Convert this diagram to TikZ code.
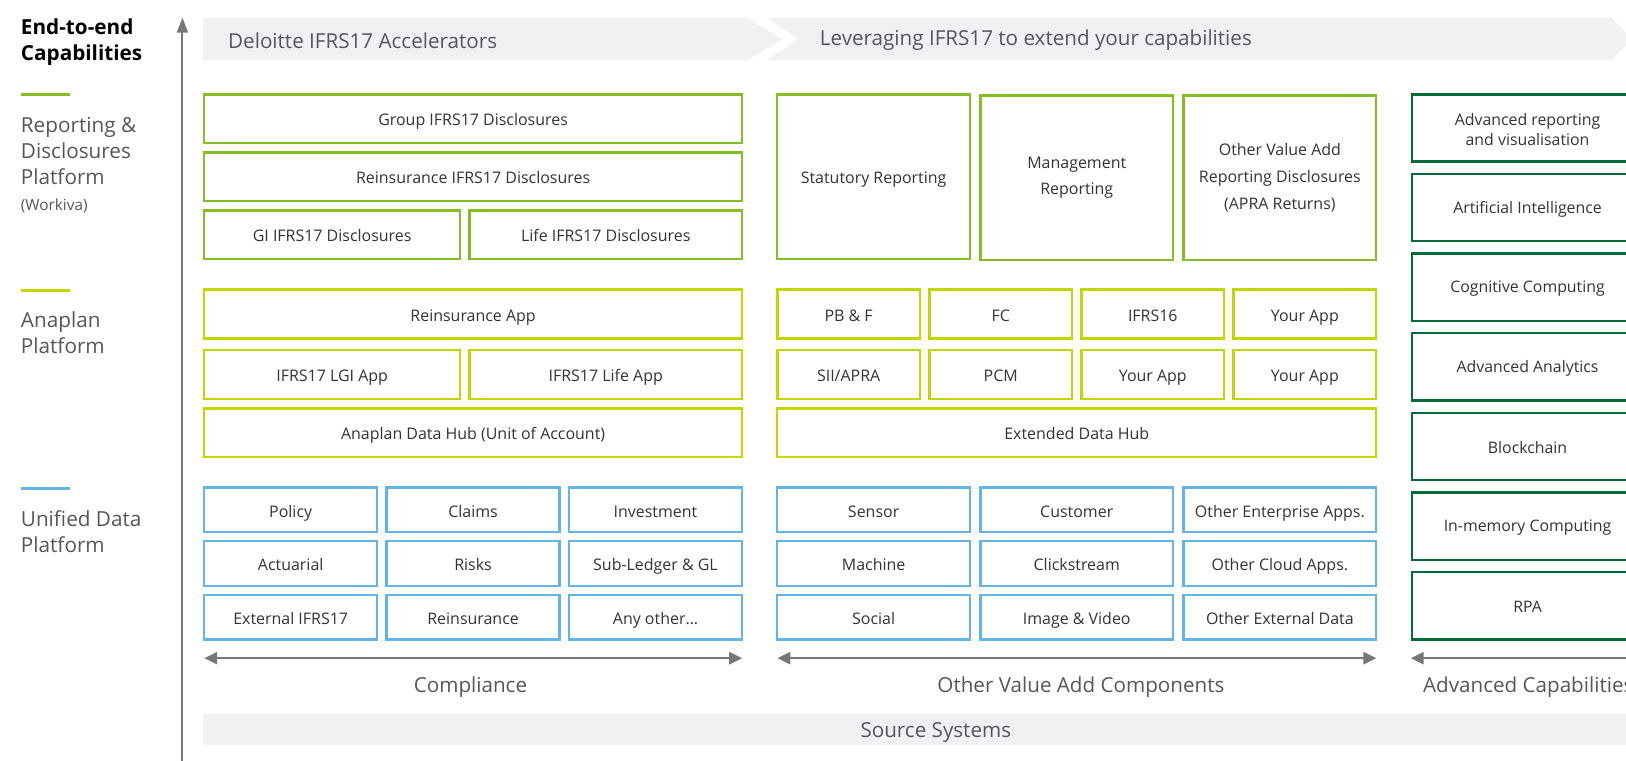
\documentclass[tikz,border=0pt]{standalone}
\usepackage{fontspec}
\setmainfont{Open Sans}
\usepackage{tikz}
\usetikzlibrary{arrows.meta,positioning}

\definecolor{repgreen}{HTML}{86BC25}
\definecolor{anagreen}{HTML}{C4D600}
\definecolor{datblue}{HTML}{62B5E5}
\definecolor{advgreen}{HTML}{046A38}
\definecolor{bandgray}{HTML}{F0F1F3}
\definecolor{axisgray}{HTML}{75787B}
\definecolor{txtgray}{HTML}{333333}
\definecolor{lblgray}{HTML}{53565A}

\tikzset{
  box/.style={draw,line width=2.4pt,text=txtgray,align=center,inner sep=0pt,
    text height=14pt,text depth=0pt,font=\fontsize{15.4}{26}\selectfont},
  ml/.style={text height={},text depth={}},
  rep/.style={box,draw=repgreen},
  ana/.style={box,draw=anagreen},
  dat/.style={box,draw=datblue},
  adv/.style={box,draw=advgreen,anchor=west,minimum width=400pt,minimum height=65pt},
  advtxt/.style={text=txtgray,align=center,inner sep=0pt,font=\fontsize{15.3}{19}\selectfont},
  full/.style={minimum width=519pt,minimum height=47pt},
  lhalf/.style={minimum width=247pt,minimum height=47pt},
  rhalf/.style={minimum width=263pt,minimum height=47pt},
  tall/.style={minimum width=186pt,minimum height=159pt},
  qtr/.style={minimum width=137.5pt,minimum height=47pt},
  third/.style={minimum width=167pt,minimum height=43pt},
  mthird/.style={minimum width=186pt,minimum height=43pt},
  plat/.style={anchor=north west,inner sep=0pt,align=left,text=lblgray,font=\fontsize{20}{25}\selectfont},
  bandtxt/.style={anchor=west,inner sep=0pt,text=lblgray,font=\fontsize{19.9}{22}\selectfont},
  bot/.style={inner sep=0pt,text=lblgray,font=\fontsize{19.9}{22}\selectfont},
  harr/.style={axisgray,line width=2.5pt,{Triangle[length=13pt,width=12pt]}-{Triangle[length=13pt,width=12pt]}},
}

\begin{document}
\begin{tikzpicture}[x=1pt,y=-1pt,scale=1.0363,every node/.append style={transform shape}]
\useasboundingbox (0,0) rectangle (1569,734.3);
\clip (0,0) rectangle (1569,734.3);

\fill[bandgray] (196,17) -- (721,17) -- (755,38) -- (721,58) -- (196,58) -- cycle;
\fill[bandgray] (740,17) -- (1555,17) -- (1575,38) -- (1555,58) -- (740,58) -- (770,38) -- cycle;
\node[bandtxt] (acc) at (220,39) {Deloitte IFRS17 Accelerators};
\node[bandtxt] (lev) at (791,39) {Leveraging IFRS17 to extend your capabilities};

\node[plat,text=black,font=\bfseries\fontsize{20}{25}\selectfont] (ttl) at (20,18) {End-to-end\\Capabilities};
\draw[repgreen,line width=3pt] (20,91) -- (68,91);
\node[plat] (rdp) at (20,113) {Reporting \&\\Disclosures\\Platform};
\node[plat,font=\fontsize{14.8}{16}\selectfont] (wkv) at (20,192) {(Workiva)};
\draw[anagreen,line width=3pt] (20,280) -- (68,280);
\node[plat] (anp) at (20,301) {Anaplan\\Platform};
\draw[datblue,line width=3pt] (20,471) -- (68,471);
\node[plat] (udp) at (20,493) {Unified Data\\Platform};

\coordinate (axb) at (176,740);
\coordinate (axt) at (176,17);
\draw[axisgray,line width=2pt,-{Triangle[length=15pt,width=11pt]}] (axb) -- (axt);

\node[rep,full] (grp) at (456.5,114.5) {Group IFRS17 Disclosures};
\node[rep,full] (rid) at (456.5,170.5) {Reinsurance IFRS17 Disclosures};
\node[rep,lhalf] (gid) at (320.5,226.5) {GI IFRS17 Disclosures};
\node[rep,rhalf] (lid) at (584.5,226.5) {Life IFRS17 Disclosures};
\node[rep,tall] (stat) at (843,170.5) {Statutory Reporting};
\node[rep,tall,ml] (mgmt) at (1039,171.5) {Management\\Reporting};
\node[rep,tall,ml] (ova) at (1235,171.5) {Other Value Add\\Reporting Disclosures\\(APRA Returns)};

\node[ana,full] (rapp) at (456.5,303) {Reinsurance App};
\node[ana,lhalf] (lgi) at (320.5,361.5) {IFRS17 LGI App};
\node[ana,rhalf] (lapp) at (584.5,361.5) {IFRS17 Life App};
\node[ana,full] (hub) at (456.5,417.5) {Anaplan Data Hub (Unit of Account)};
\node[ana,qtr] (pbf) at (818.9,303) {PB \& F};
\node[ana,qtr] (fc) at (965.6,303) {FC};
\node[ana,qtr] (ifr) at (1112.4,303) {IFRS16};
\node[ana,qtr] (ya) at (1259.1,303) {Your App};
\node[ana,qtr] (sii) at (818.9,361.5) {SII/APRA};
\node[ana,qtr] (pcm) at (965.6,361.5) {PCM};
\node[ana,qtr] (yb) at (1112.4,361.5) {Your App};
\node[ana,qtr] (yc) at (1259.1,361.5) {Your App};
\node[ana,minimum width=578pt,minimum height=47pt] (edh) at (1039,417.5) {Extended Data Hub};

\foreach \a/\b/\c/\d/\e/\f [count=\r] in {Policy/Claims/Investment/Sensor/Customer/Other Enterprise Apps.,
  Actuarial/Risks/Sub-Ledger \& GL/Machine/Clickstream/Other Cloud Apps.,
  External IFRS17/Reinsurance/Any other\ldots/Social/Image \& Video/Other External Data}{
  \pgfmathsetmacro\y{492+(\r-1)*51.75}
  \node[dat,third] (d\r a) at (280.5,\y) {\a};
  \node[dat,third] (d\r b) at (456.5,\y) {\b};
  \node[dat,third] (d\r c) at (632.5,\y) {\c};
  \node[dat,mthird] (d\r d) at (843,\y) {\d};
  \node[dat,mthird] (d\r e) at (1039,\y) {\e};
  \node[dat,mthird] (d\r f) at (1235,\y) {\f};
}

\foreach \t [count=\i] in {{Advanced reporting\\and visualisation},Artificial Intelligence,Cognitive Computing,Advanced Analytics,Blockchain,In-memory Computing,RPA}{
  \pgfmathsetmacro\y{123.5+(\i-1)*76.83}
  \node[adv] (adv\i) at (1361,\y) {};
  \node[advtxt] (advt\i) at (1474,\y+1.5) {\t};
}

\coordinate (cl1) at (197,635);
\coordinate (cl2) at (716,635);
\coordinate (ov1) at (750,635);
\coordinate (ov2) at (1328,635);
\coordinate (ac1) at (1361,635);
\coordinate (ac2) at (1700,635);
\draw[harr] (cl1) -- (cl2);
\draw[harr] (ov1) -- (ov2);
\draw[harr] (ac1) -- (ac2);
\node[bot] (compl) at (454,663) {Compliance};
\node[bot] (ovac) at (1043,663) {Other Value Add Components};
\node[bot,anchor=west] (advc) at (1373,663) {Advanced Capabilities};

\fill[bandgray] (196,689) rectangle (1600,719);
\node[bot] (src) at (903,707) {Source Systems};
\end{tikzpicture}
\end{document}
